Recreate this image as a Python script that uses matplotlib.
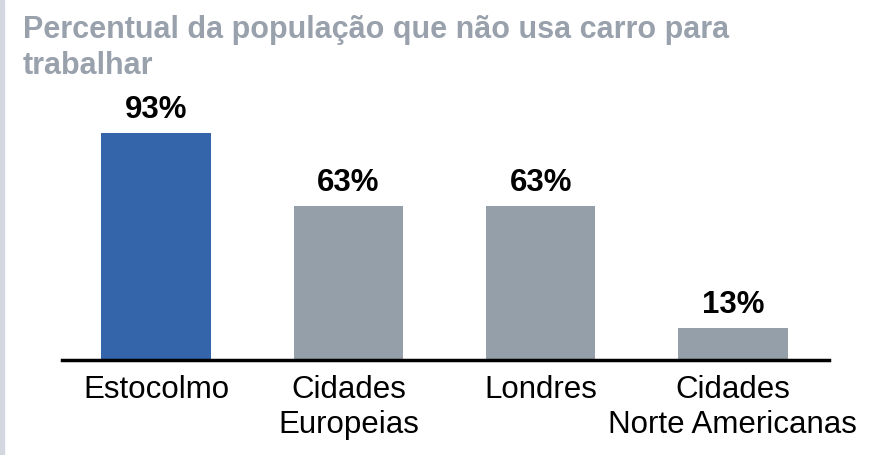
import matplotlib

matplotlib.use("Agg")
import matplotlib.pyplot as plt
from matplotlib.patches import Rectangle

# data
categories = ["Estocolmo", "Cidades\nEuropeias", "Londres", "Cidades\nNorte Americanas"]
values = [93, 63, 63, 13]
value_labels = ["93%", "63%", "63%", "13%"]
title_lines = ["Percentual da população que não usa carro para", "trabalhar"]

BLUE = "#3465aa"
GREY = "#959faa"
TITLE_COLOR = "#98a1ac"
W, H, DPI = 875, 455, 100

plt.rcParams["font.family"] = ["Liberation Sans", "DejaVu Sans"]

fig = plt.figure(figsize=(W / DPI, H / DPI), dpi=DPI)
ax = fig.add_axes([62 / W, 95 / H, (829 - 62) / W, 244 / H])

colors = [BLUE] + [GREY] * (len(values) - 1)
x = list(range(len(values)))
bars = ax.bar(x, values, width=0.57, color=colors, zorder=2)

for rect, lab in zip(bars, value_labels):
    ax.annotate(
        lab,
        (rect.get_x() + rect.get_width() / 2, rect.get_height()),
        xytext=(0, 10.8),
        textcoords="offset points",
        ha="center",
        va="baseline",
        fontsize=22.5,
        fontweight="bold",
        color="black",
    )

ax.set_xlim(-0.49, 3.5)
ax.set_ylim(0, 100)
ax.set_xticks(x)
ax.set_xticklabels(categories, fontsize=22.5, linespacing=1.22, multialignment="center")
ax.tick_params(axis="x", length=0, pad=10.5)
ax.set_yticks([])
for side in ("top", "left", "right"):
    ax.spines[side].set_visible(False)
ax.spines["bottom"].set_linewidth(2.5)
ax.spines["bottom"].set_zorder(3)

# title
fig.text(23 / W, 1 - 38 / H, title_lines[0], fontsize=22, fontweight="bold",
         color=TITLE_COLOR, va="baseline", ha="left")
fig.text(23 / W, 1 - 74 / H, title_lines[1], fontsize=22, fontweight="bold",
         color=TITLE_COLOR, va="baseline", ha="left")

# grey stripe on the left edge
fig.patches.append(Rectangle((0, 0), 4 / W, 1, transform=fig.transFigure,
                             color="#d3d7df", zorder=0))

fig.savefig("out.png", dpi=DPI)
